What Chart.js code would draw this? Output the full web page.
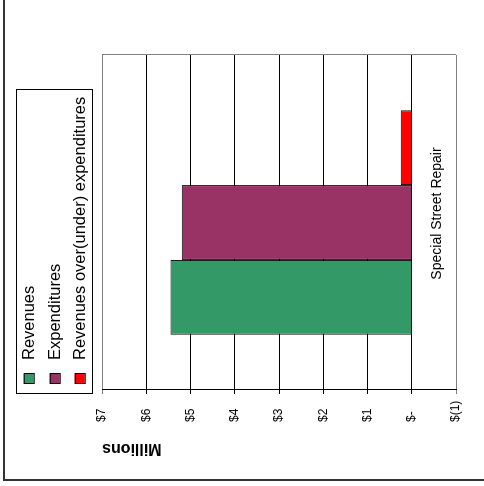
<!DOCTYPE html>
<html>
<head>
<meta charset="utf-8">
<script src="https://cdn.jsdelivr.net/npm/chart.js@4/dist/chart.umd.min.js"></script>
<style>
  html, body { margin: 0; padding: 0; background: #fff; overflow: hidden; }
  body { width: 484px; height: 486px; position: relative; }
  /* The column chart is laid out upright, then turned a quarter turn counter-clockwise */
  #turn {
    position: absolute; left: 0; top: 0;
    width: 486px; height: 484px;
    transform-origin: 0 0;
    transform: translate(0px, 486px) rotate(-90deg);
  }
  canvas { display: block; }
</style>
</head>
<body>
<div id="turn"><canvas id="c" width="486" height="484"></canvas></div>
<script>
// Fund summary, in millions of dollars
const categories = ['Special Street Repair'];
const seriesNames = ['Revenues', 'Expenditures', 'Revenues over(under) expenditures'];
const revenues = [5.45];
const expenditures = [5.20];
const revenuesOverExpenditures = [0.25];
const valueTickLabels = ['$(1)', '$-', '$1', '$2', '$3', '$4', '$5', '$6', '$7'];
const axisTitle = 'Millions';

const FONT = "'Liberation Sans', Arial, sans-serif";
const seriesColors = ['#339966', '#993366', '#FF0000'];

// Frame around the whole chart, plot border and boxed legend
const decorations = {
  id: 'decorations',
  beforeDatasetsDraw(chart) {
    const { ctx, chartArea: a } = chart;
    ctx.save();
    ctx.strokeStyle = '#808080';
    ctx.lineWidth = 1;
    ctx.beginPath();
    ctx.moveTo(Math.round(a.right) + 0.5, a.top);
    ctx.lineTo(Math.round(a.right) + 0.5, a.bottom);
    ctx.stroke();
    ctx.restore();
  },
  afterDraw(chart) {
    const { ctx } = chart;
    ctx.save();
    // outer frame
    ctx.strokeStyle = '#333';
    ctx.lineWidth = 2;
    ctx.beginPath();
    ctx.moveTo(600, 4);
    ctx.lineTo(6, 4);
    ctx.lineTo(6, 600);
    ctx.stroke();

    // legend box
    ctx.strokeStyle = '#000';
    ctx.lineWidth = 1;
    ctx.strokeRect(92.5, 16.5, 304, 76);
    const rows = [28.7, 54.7, 79.7];
    chart.data.datasets.forEach((ds, i) => {
      const cy = rows[i];
      ctx.fillStyle = ds.backgroundColor;
      ctx.fillRect(102, cy - 5, 10, 10);
      ctx.strokeStyle = '#000';
      ctx.strokeRect(102.5, cy - 4.5, 10, 10);
      ctx.fillStyle = '#000';
      ctx.font = '16.5px ' + FONT;
      ctx.textAlign = 'left';
      ctx.textBaseline = 'middle';
      ctx.fillText(ds.label, 126, cy + 1);
    });
    ctx.restore();
  }
};

const edgeGray = (ctx) => (ctx.tick && (ctx.tick.value === -1 || ctx.tick.value === 7)) ? '#808080' : '#000';

new Chart(document.getElementById('c'), {
  type: 'bar',
  data: {
    labels: categories,
    datasets: [
      { label: seriesNames[0], data: revenues, backgroundColor: seriesColors[0] },
      { label: seriesNames[1], data: expenditures, backgroundColor: seriesColors[1] },
      { label: seriesNames[2], data: revenuesOverExpenditures, backgroundColor: seriesColors[2] }
    ]
  },
  options: {
    responsive: false,
    animation: false,
    devicePixelRatio: 1,
    layout: { padding: { top: 102, right: 55, bottom: 28, left: 64 } },
    datasets: {
      bar: {
        borderColor: '#000',
        borderWidth: 1,
        categoryPercentage: 0.67,
        barPercentage: 1.0
      }
    },
    plugins: {
      legend: { display: false },
      tooltip: { enabled: false }
    },
    scales: {
      x: {
        position: { y: 0 },
        grid: { display: false },
        border: { display: true, color: '#000', width: 1 },
        ticks: {
          color: '#000',
          font: { family: FONT, size: 14 },
          padding: 9,
          labelOffset: 9
        }
      },
      y: {
        min: -1,
        max: 7,
        afterFit(axis) { axis.width = 32; },
        ticks: {
          stepSize: 1,
          color: '#000',
          font: { family: FONT, size: 12 },
          crossAlign: 'far',
          padding: 8,
          callback: (v, i) => valueTickLabels[i]
        },
        grid: {
          color: edgeGray,
          lineWidth: 1,
          tickLength: 4,
          drawTicks: true
        },
        border: { display: true, color: '#000', width: 1 },
        title: {
          display: true,
          text: axisTitle,
          align: 'end',
          color: '#000',
          font: { family: FONT, size: 16, weight: 'bold' },
          padding: { top: -35.6, bottom: 0 }
        }
      }
    }
  },
  plugins: [decorations]
});
</script>
</body>
</html>
